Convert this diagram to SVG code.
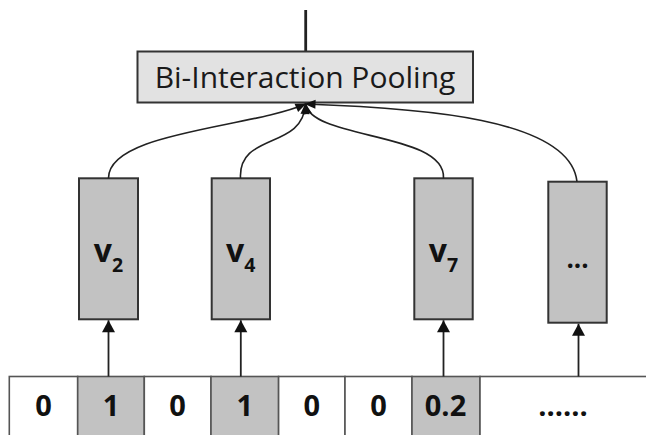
<svg xmlns="http://www.w3.org/2000/svg" width="646" height="435" viewBox="0 0 646 435">
  <defs>
    <style>
      .bg { fill: #ffffff; }
      .pool { fill: #e2e2e2; stroke: #333333; stroke-width: 2; }
      .emb { fill: #c2c2c2; stroke: #333333; stroke-width: 2; }
      .cell { fill: #ffffff; stroke: #555555; stroke-width: 1.6; }
      .cell.on { fill: #c2c2c2; }
      .edge { fill: none; stroke: #222222; stroke-width: 1.6; }
      .up { fill: none; stroke: #222222; stroke-width: 1.8; }
      .title { font-family: "Open Sans", "Liberation Sans", sans-serif; font-size: 30px; fill: #1a1a1a; text-anchor: middle; }
      .num { font-family: "Open Sans", "Liberation Sans", sans-serif; font-size: 29px; font-weight: bold; fill: #111111; text-anchor: middle; }
      .vec { font-family: "Open Sans", "Liberation Sans", sans-serif; font-weight: bold; fill: #111111; }
    </style>
    <!-- small head where the pairwise edges meet the pooling box -->
    <marker id="headSmall" refX="10" refY="4.5" markerWidth="11" markerHeight="9" markerUnits="userSpaceOnUse" orient="auto" overflow="visible">
      <path d="M0,0 L11,4.5 L0,9 z" fill="#111111"/>
    </marker>
    <!-- head for the lookup arrows into the embedding boxes -->
    <marker id="headBig" refX="12" refY="6.5" markerWidth="12" markerHeight="13" markerUnits="userSpaceOnUse" orient="auto" overflow="visible">
      <path d="M0,0 L12,6.5 L0,13 z" fill="#111111"/>
    </marker>
  </defs>

  <rect class="bg" x="0" y="0" width="646" height="435"/>

  <!-- output line above the pooling layer -->
  <g id="output">
    <line x1="305.7" y1="10" x2="305.7" y2="51.7" stroke="#222222" stroke-width="2.8"/>
  </g>

  <!-- pooling layer -->
  <g id="pooling">
    <rect class="pool" x="137.5" y="51.5" width="335.5" height="51"/>
    <text class="title" x="305" y="88">Bi-Interaction Pooling</text>
  </g>

  <!-- embedding vectors -->
  <g id="v2">
    <rect class="emb" x="79" y="178.3" width="59" height="141"/>
    <text class="vec" x="108.5" y="262.3" text-anchor="middle"><tspan font-size="32">v</tspan><tspan font-size="19.5" dy="9.4">2</tspan></text>
  </g>
  <g id="v4">
    <rect class="emb" x="211.7" y="178.3" width="58.3" height="141"/>
    <text class="vec" x="240.8" y="262.3" text-anchor="middle"><tspan font-size="32">v</tspan><tspan font-size="19.5" dy="9.4">4</tspan></text>
  </g>
  <g id="v7">
    <rect class="emb" x="414.3" y="178.3" width="58.4" height="141"/>
    <text class="vec" x="443.5" y="262.3" text-anchor="middle"><tspan font-size="32">v</tspan><tspan font-size="19.5" dy="9.4">7</tspan></text>
  </g>
  <g id="vmore">
    <rect class="emb" x="548.3" y="181.7" width="58.4" height="141"/>
    <text class="vec" x="577.5" y="268" text-anchor="middle" font-size="26">...</text>
  </g>

  <!-- sparse input row -->
  <g id="input">
    <rect class="cell" x="9.3" y="376.5" width="68.4" height="70"/>
    <rect class="cell on" x="77.7" y="376.5" width="66.6" height="70"/>
    <rect class="cell" x="144.3" y="376.5" width="66.7" height="70"/>
    <rect class="cell on" x="211" y="376.5" width="67.6" height="70"/>
    <rect class="cell" x="278.6" y="376.5" width="66.4" height="70"/>
    <rect class="cell" x="345" y="376.5" width="67" height="70"/>
    <rect class="cell on" x="412" y="376.5" width="68" height="70"/>
    <rect class="cell" x="480" y="376.5" width="180" height="70"/>
    <text class="num" x="43.5" y="415.7">0</text>
    <text class="num" x="111" y="415.7">1</text>
    <text class="num" x="177.6" y="415.7">0</text>
    <text class="num" x="244.8" y="415.7">1</text>
    <text class="num" x="311.8" y="415.7">0</text>
    <text class="num" x="378.5" y="415.7">0</text>
    <text class="num" x="445.5" y="415.7">0.2</text>
    <text class="num" x="563" y="415.7" font-size="22">......</text>
  </g>

  <!-- connectors -->
  <g id="connectors">
    <path class="edge" d="M108.5,178.3 C108,132 250,128 305.5,104" marker-end="url(#headSmall)"/>
    <path class="edge" d="M240.5,178.3 C238,132 303,150 305.5,104" marker-end="url(#headSmall)"/>
    <path class="edge" d="M443.5,178.3 C446,132 312,140 305.5,104" marker-end="url(#headSmall)"/>
    <path class="edge" d="M577,181.7 C570,118 420,108 305.5,104" marker-end="url(#headSmall)"/>
    <line class="up" x1="108.5" y1="376.5" x2="108.5" y2="320.3" marker-end="url(#headBig)"/>
    <line class="up" x1="240.8" y1="376.5" x2="240.8" y2="320.3" marker-end="url(#headBig)"/>
    <line class="up" x1="443.5" y1="376.5" x2="443.5" y2="320.3" marker-end="url(#headBig)"/>
    <line class="up" x1="578.5" y1="376.5" x2="578.5" y2="323.7" marker-end="url(#headBig)"/>
  </g>
</svg>
